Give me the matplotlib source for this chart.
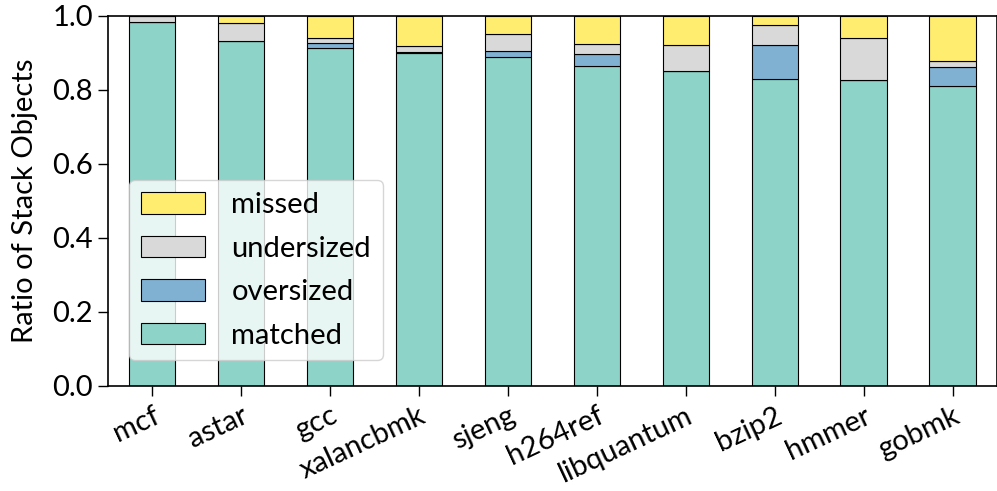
import matplotlib
matplotlib.use("Agg")
import matplotlib.pyplot as plt
import numpy as np

benchmarks = ["mcf", "astar", "gcc", "xalancbmk", "sjeng", "h264ref",
              "libquantum", "bzip2", "hmmer", "gobmk"]
matched = [0.982, 0.932, 0.913, 0.899, 0.889, 0.865, 0.851, 0.830, 0.826, 0.809]
oversized = [0.0, 0.0, 0.013, 0.004, 0.016, 0.031, 0.0, 0.092, 0.0, 0.053]
undersized = [0.016, 0.049, 0.014, 0.016, 0.045, 0.027, 0.069, 0.054, 0.114, 0.015]
missed = [1 - m - o - u for m, o, u in zip(matched, oversized, undersized)]

plt.rcParams['font.family'] = ['Lato', 'DejaVu Sans']
plt.rcParams['font.size'] = 21

fig = plt.figure(figsize=(9.97, 4.91), dpi=100)
ax = fig.add_axes([0.108, 0.214, 0.892, 0.754])

x = np.arange(len(benchmarks))
w = 0.52
ec = dict(edgecolor='black', linewidth=0.8)
b1 = ax.bar(x, matched, w, color='#8dd3c7', label='matched', **ec)
bottom = np.array(matched)
b2 = ax.bar(x, oversized, w, bottom=bottom, color='#80b1d3', label='oversized', **ec)
bottom = bottom + np.array(oversized)
b3 = ax.bar(x, undersized, w, bottom=bottom, color='#d9d9d9', label='undersized', **ec)
bottom = bottom + np.array(undersized)
b4 = ax.bar(x, missed, w, bottom=bottom, color='#ffed6f', label='missed', **ec)

ax.set_xlim(-0.5, 9.5)
ax.set_ylim(0, 1.0)
ax.set_ylabel("Ratio of Stack Objects", labelpad=10)
ax.set_xticks(x)
ax.set_xticklabels(benchmarks, rotation=25, ha='right', rotation_mode='anchor')
ax.tick_params(length=7, width=1)
ax.tick_params(axis='x', pad=5)
for s in ax.spines.values():
    s.set_linewidth(1.2)

ax.legend([b4, b3, b2, b1], ['missed', 'undersized', 'oversized', 'matched'],
          loc='lower left', bbox_to_anchor=(0.008, 0.03), handlelength=2.2,
          handleheight=0.75, labelspacing=0.6, handletextpad=0.9)

fig.savefig("out.png", dpi=100)
